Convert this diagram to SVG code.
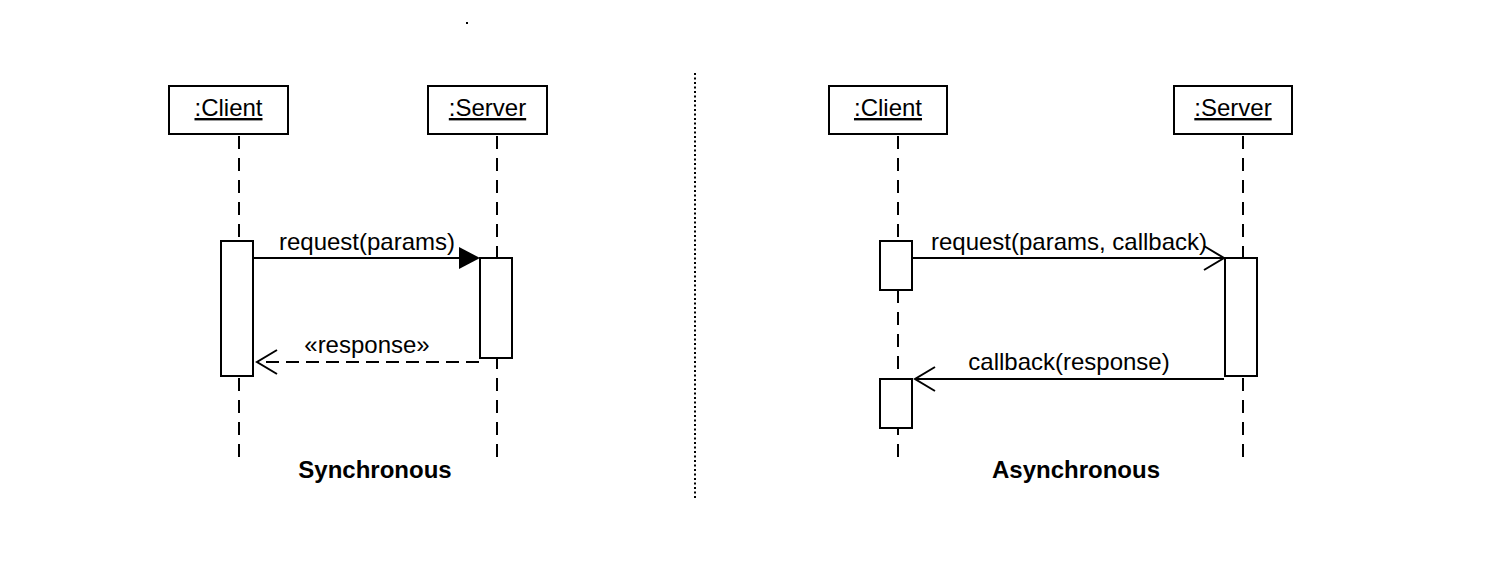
<svg xmlns="http://www.w3.org/2000/svg" width="1487" height="588" viewBox="0 0 1487 588">
<style>
.box{fill:#fff;stroke:#000;stroke-width:2}
.act{fill:#fff;stroke:#000;stroke-width:2}
.life{stroke:#000;stroke-width:2;stroke-dasharray:13 9;fill:none}
.msg{stroke:#000;stroke-width:2;fill:none}
.ret{stroke:#000;stroke-width:2;fill:none;stroke-dasharray:13 7}
.t{font-family:"Liberation Sans",Arial,sans-serif;font-size:24px;fill:#000}
.u{text-decoration:underline}
.b{font-weight:bold}
</style>
<rect width="1487" height="588" fill="#fff"/>
<rect x="466" y="22" width="2" height="2" fill="#000"/>
<line x1="695" y1="73" x2="695" y2="498" stroke="#000" stroke-width="2" stroke-dasharray="2 2.5"/>
<g id="lifelines">
<line class="life" x1="239" y1="136" x2="239" y2="461"/>
<line class="life" x1="497" y1="136" x2="497" y2="466"/>
<line class="life" x1="898" y1="136" x2="898" y2="466"/>
<line class="life" x1="1243" y1="136" x2="1243" y2="466"/>
</g>
<g id="client1"><rect class="box" x="169" y="86" width="119" height="48"/><text class="t u" x="228.5" y="116" text-anchor="middle">:Client</text></g>
<g id="server1"><rect class="box" x="428" y="86" width="119" height="48"/><text class="t u" x="487.5" y="116" text-anchor="middle">:Server</text></g>
<g id="client2"><rect class="box" x="829" y="86" width="118" height="48"/><text class="t u" x="888" y="116" text-anchor="middle">:Client</text></g>
<g id="server2"><rect class="box" x="1174" y="86" width="118" height="48"/><text class="t u" x="1233" y="116" text-anchor="middle">:Server</text></g>
<g id="act-client1"><rect class="act" x="221" y="241" width="32" height="135"/></g>
<g id="act-server1"><rect class="act" x="480" y="258" width="32" height="100"/></g>
<g id="act-client2a"><rect class="act" x="880" y="241" width="32" height="49"/></g>
<g id="act-client2b"><rect class="act" x="880" y="379" width="32" height="49"/></g>
<g id="act-server2"><rect class="act" x="1225" y="258" width="32" height="118"/></g>
<g id="connectors">
<line class="msg" x1="254" y1="258" x2="462" y2="258"/>
<polygon points="459,247 480,258 459,269" fill="#000"/>
<text class="t" x="367" y="250" text-anchor="middle">request(params)</text>
<line class="ret" x1="479" y1="362" x2="258" y2="362"/>
<polyline class="msg" points="277,350 257,362 277,374"/>
<text class="t" x="367" y="353" text-anchor="middle">«response»</text>
<line class="msg" x1="913" y1="258" x2="1224" y2="258"/>
<polyline class="msg" points="1204,246 1224,258 1204,270"/>
<text class="t" x="1069" y="250" text-anchor="middle">request(params, callback)</text>
<line class="msg" x1="1224" y1="379" x2="915" y2="379"/>
<polyline class="msg" points="935,367 915,379 935,391"/>
<text class="t" x="1069" y="370" text-anchor="middle">callback(response)</text>
</g>
<text class="t b" x="375" y="478" text-anchor="middle">Synchronous</text>
<text class="t b" x="1076" y="478" text-anchor="middle">Asynchronous</text>
</svg>
